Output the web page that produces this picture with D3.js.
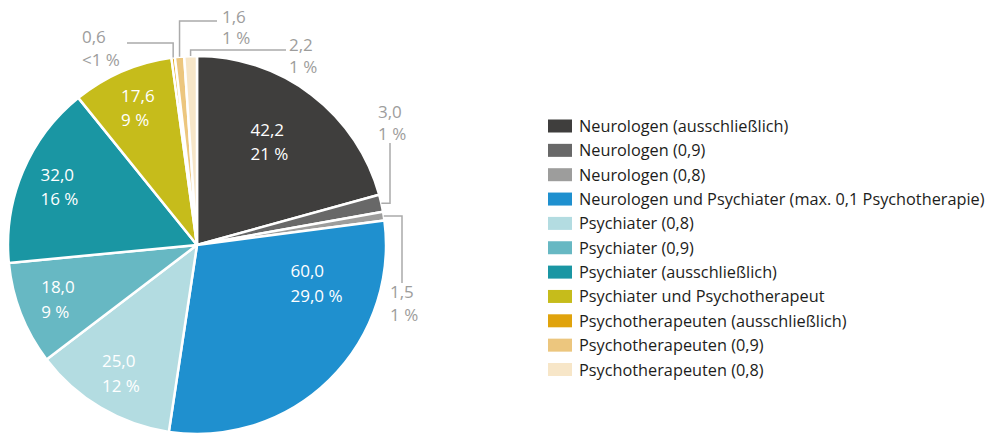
<!DOCTYPE html>
<html>
<head>
<meta charset="utf-8">
<script src="https://cdn.jsdelivr.net/npm/d3@7"></script>
<style>
  html, body { margin: 0; padding: 0; background: #fff; }
  svg { display: block; font-family: "Open Sans", "Lato", sans-serif; }
</style>
</head>
<body>
<svg id="chart" width="987" height="436"></svg>
<script>
// Categories, values and shares
const categories = [
  "Neurologen (ausschließlich)",
  "Neurologen (0,9)",
  "Neurologen (0,8)",
  "Neurologen und Psychiater (max. 0,1 Psychotherapie)",
  "Psychiater (0,8)",
  "Psychiater (0,9)",
  "Psychiater (ausschließlich)",
  "Psychiater und Psychotherapeut",
  "Psychotherapeuten (ausschließlich)",
  "Psychotherapeuten (0,9)",
  "Psychotherapeuten (0,8)"
];
const values = [42.2, 3.0, 1.5, 60.0, 25.0, 18.0, 32.0, 17.6, 0.6, 1.6, 2.2];
const shareLabels = ["21 %", "1 %", "1 %", "29,0 %", "12 %", "9 %", "16 %", "9 %", "<1 %", "1 %", "1 %"];
const colors = ["#3f3e3d", "#686868", "#9d9d9c", "#1f90cf", "#b3dce1", "#67b8c3",
                "#1a96a3", "#c6bc1b", "#e0a30c", "#ecc67e", "#f7e6c8"];

const fmt = v => d3.format(".1f")(v).replace(".", ",");

const svg = d3.select("#chart");
const cx = 197, cy = 245, R = 189;

const pie = d3.pie().sort(null).value(d => d.value);
const data = categories.map((c, i) => ({ cat: c, value: values[i], share: shareLabels[i], color: colors[i] }));
const arcs = pie(data);

const arc = d3.arc().innerRadius(0).outerRadius(R);
const labelArc = d3.arc().innerRadius(R * 0.79).outerRadius(R * 0.79);
const edgeArc = d3.arc().innerRadius(R).outerRadius(R);

const g = svg.append("g").attr("transform", `translate(${cx},${cy})`);

g.selectAll("path.slice")
  .data(arcs)
  .join("path")
  .attr("class", "slice")
  .attr("d", arc)
  .attr("fill", d => d.data.color)
  .attr("stroke", "#fff")
  .attr("stroke-width", 2.5)
  .attr("stroke-linejoin", "round");

// Inner labels: value over share, left-aligned block centred on the label point
const innerNudge = { 0: [-18, 16], 3: [15, -68] };
const lineGap = 24.5, fsInner = 17;

arcs.forEach((d, i) => {
  if (d.data.value < 10) return;
  const [x0, y0] = labelArc.centroid(d);
  const n = innerNudge[i] || [0, 0];
  const x = x0 + n[0], y = y0 + n[1];
  const t = g.append("g");
  const a = t.append("text").text(fmt(d.data.value));
  const b = t.append("text").text(d.data.share);
  t.selectAll("text").attr("fill", "#fff").attr("font-size", fsInner);
  const w = Math.max(a.node().getComputedTextLength(), b.node().getComputedTextLength());
  a.attr("x", x - w / 2).attr("y", y - lineGap / 2 + 6);
  b.attr("x", x - w / 2).attr("y", y + lineGap / 2 + 6);
});

// Outer callouts for the thin slices
// kind "h": horizontal then vertical leader; "v": vertical then horizontal
const callouts = {
  1: { kind: "h", elbow: 390, end: 143, tx: 378, ty: [118, 140] },
  2: { kind: "h", elbow: 402, end: 283, tx: 390, ty: [298, 321] },
  8: { kind: "v", elbow: 43, end: 127, tx: 82, ty: [43, 66] },
  9: { kind: "v", elbow: 21, end: 217, tx: 222, ty: [23, 44] },
  10: { kind: "v", elbow: 50, end: 286, tx: 289, ty: [51, 73] }
};

arcs.forEach((d, i) => {
  const c = callouts[i];
  if (!c) return;
  const [px, py] = edgeArc.centroid(d);
  const sx = cx + px, sy = cy + py;
  let pts;
  if (c.kind === "h") pts = [[sx, sy], [c.elbow, sy], [c.elbow, c.end]];
  else pts = [[sx, sy], [sx, c.elbow], [c.end, c.elbow]];
  svg.append("path")
    .attr("d", d3.line()(pts))
    .attr("fill", "none")
    .attr("stroke", "#ababab")
    .attr("stroke-width", 1.5);
  svg.append("text").attr("x", c.tx).attr("y", c.ty[0])
    .attr("fill", "#9d9d9c").attr("font-size", 17).text(fmt(d.data.value));
  svg.append("text").attr("x", c.tx).attr("y", c.ty[1])
    .attr("fill", "#9d9d9c").attr("font-size", 17).text(d.data.share);
});

// Legend
const legY = d3.scalePoint().domain(categories).range([126, 369.5]);
const leg = svg.append("g");
leg.selectAll("rect")
  .data(data)
  .join("rect")
  .attr("x", 548)
  .attr("y", d => legY(d.cat) - 6.5)
  .attr("width", 24)
  .attr("height", 13)
  .attr("fill", d => d.color);
leg.selectAll("text")
  .data(data)
  .join("text")
  .attr("x", 579)
  .attr("y", d => legY(d.cat) + 6)
  .attr("font-size", 16.3)
  .attr("fill", "#1d1d1b")
  .text(d => d.cat);
</script>
</body>
</html>
